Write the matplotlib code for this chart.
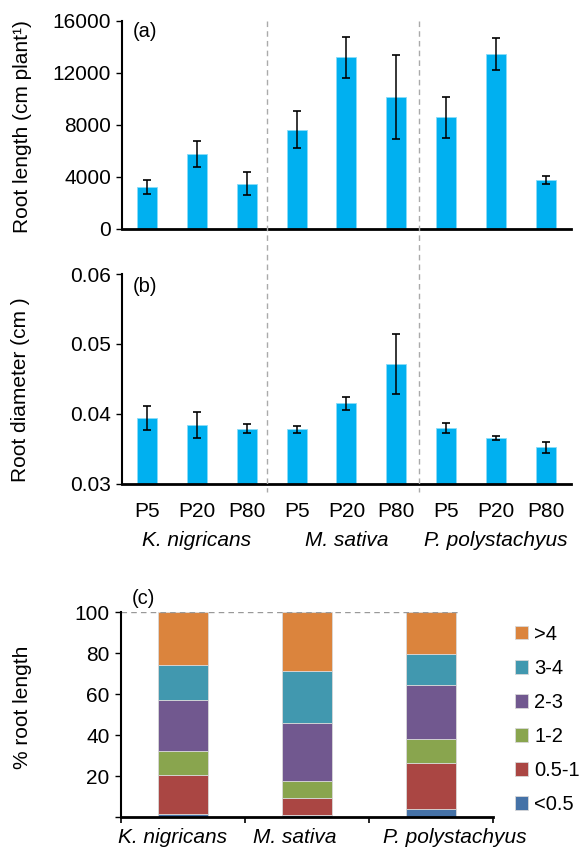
import numpy as np
import matplotlib
matplotlib.use('Agg')
import matplotlib.pyplot as plt
from matplotlib.lines import Line2D
from matplotlib.transforms import blended_transform_factory, ScaledTranslation

plt.rcParams['font.family'] = ['Liberation Sans', 'DejaVu Sans']

# panel (a) and (b) data
treatments = ['P5', 'P20', 'P80'] * 3
species = ['K. nigricans', 'M. sativa', 'P. polystachyus']
root_length = [3180, 5720, 3460, 7620, 13180, 10130, 8570, 13430, 3720]
root_length_err = [540, 1000, 880, 1430, 1560, 3200, 1570, 1250, 300]
root_diam = [0.0394, 0.0384, 0.0379, 0.0378, 0.0415, 0.0471, 0.0380, 0.0365, 0.0352]
root_diam_err = [0.0017, 0.0018, 0.0006, 0.0005, 0.0009, 0.0043, 0.0007, 0.0003, 0.0008]

# panel (c) data, % of root length per diameter class
classes = ['<0.5', '0.5-1', '1-2', '2-3', '3-4', '>4']
class_colors = ['#4572A7', '#AA4643', '#89A54E', '#71588F', '#4198AF', '#DB843D']
pct_k = [1.3, 19.2, 11.6, 25.2, 17.1, 25.6]
pct_m = [0.8, 8.6, 8.3, 28.2, 25.4, 28.7]
pct_p = [3.8, 22.7, 11.6, 26.5, 14.9, 20.5]

bar_color = '#00B0F0'
fs = 15

fig = plt.figure(figsize=(5.82, 8.5), dpi=100)
ax_a = fig.add_axes([0.2096, 0.731, 0.7714, 0.2446])
ax_b = fig.add_axes([0.2096, 0.4309, 0.7714, 0.2467])
ax_c = fig.add_axes([0.2074, 0.0388, 0.6392, 0.2408])

x = np.arange(len(treatments))
err_style = dict(ecolor='black', elinewidth=1.1, capsize=2.8, capthick=1.2)

def style_axis(ax):
    for s in ['top', 'right']:
        ax.spines[s].set_visible(False)
    ax.spines['left'].set_linewidth(1.5)
    ax.spines['bottom'].set_linewidth(2)
    ax.tick_params(axis='y', direction='out', length=4, width=1, labelsize=fs, pad=4)

#(a) root length
ax_a.bar(x, root_length, width=0.4, color=bar_color, edgecolor='#8adcf8', linewidth=0.6,
         yerr=root_length_err, error_kw=err_style)
ax_a.set_xlim(-0.5, 8.5)
ax_a.set_ylim(0, 16000)
ax_a.set_yticks([0, 4000, 8000, 12000, 16000])
ax_a.set_xticks([])
style_axis(ax_a)
ax_a.set_ylabel('Root length (cm plant¹)', fontsize=15)
ax_a.yaxis.set_label_coords(-0.200, 0.49)
ax_a.text(0.025, 0.995, '(a)', transform=ax_a.transAxes, fontsize=14.5, va='top', ha='left')

#(b) root diameter
ax_b.bar(x, root_diam, width=0.4, color=bar_color, edgecolor='#8adcf8', linewidth=0.6,
         yerr=root_diam_err, error_kw=err_style)
ax_b.set_xlim(-0.5, 8.5)
ax_b.set_ylim(0.03, 0.06)
ax_b.set_yticks([0.03, 0.04, 0.05, 0.06])
ax_b.set_yticklabels(['0.03', '0.04', '0.05', '0.06'])
style_axis(ax_b)
ax_b.set_xticks(x)
ax_b.set_xticklabels(treatments, fontsize=fs)
ax_b.tick_params(axis='x', length=0, pad=13)
ax_b.set_ylabel('Root diameter (cm )', fontsize=15)
ax_b.yaxis.set_label_coords(-0.205, 0.45)
ax_b.text(0.025, 0.985, '(b)', transform=ax_b.transAxes, fontsize=14.5, va='top', ha='left')
trans_b = blended_transform_factory(ax_b.transData, ax_b.transAxes)
for i, sp in enumerate(species):
    ax_b.text(3 * i + 1, -0.27, sp, transform=trans_b, fontsize=fs, style='italic',
              ha='center', va='center')

#dashed separators between species, drawn over both (a) and (b)
trans_f = blended_transform_factory(ax_a.transData, fig.transFigure)
for xs in [2.4, 5.45]:
    fig.add_artist(Line2D([xs, xs], [0.9756, 0.4212], transform=trans_f, color='#aaaaaa',
                          linestyle=(0, (4, 3)), linewidth=1, zorder=10))

#(c) stacked bars
xc = np.arange(len(species))
pct = np.array([pct_k, pct_m, pct_p])
bottom = np.zeros(len(species))
handles = []
for j, cl in enumerate(classes):
    h = ax_c.bar(xc, pct[:, j], width=0.4, bottom=bottom, color=class_colors[j],
                 edgecolor='#d8d8d8', linewidth=0.6, label=cl)
    handles.append(h)
    bottom += pct[:, j]
ax_c.set_xlim(-0.5, 2.5)
ax_c.set_ylim(0, 100)
ax_c.axhline(100, xmin=0, xmax=0.91, color='#999999', linestyle=(0, (4, 3)), linewidth=1)
style_axis(ax_c)
ax_c.set_yticks([0, 20, 40, 60, 80, 100])
ax_c.set_yticklabels(['', '20', '40', '60', '80', '100'])
ax_c.set_xticks(xc)
ax_c.set_xticklabels(species, fontsize=fs, style='italic')
ax_c.set_xticks([-0.5, 0.5, 1.5, 2.5], minor=True)
ax_c.tick_params(axis='x', which='major', length=0, pad=8)
ax_c.tick_params(axis='x', which='minor', direction='out', length=4.5, width=1.2)
#the species labels sit a little off-centre in the original
for lab, dx in zip(ax_c.get_xticklabels(), [-10, -12, 24]):
    lab.set_transform(lab.get_transform() + ScaledTranslation(dx / 100, 0, fig.dpi_scale_trans))
ax_c.set_ylabel('% root length', fontsize=15)
ax_c.yaxis.set_label_coords(-0.239, 0.535)
ax_c.text(0.03, 1.02, '(c)', transform=ax_c.transAxes, fontsize=14.5, va='bottom', ha='left')
ax_c.legend(handles[::-1], classes[::-1], loc='upper left', bbox_to_anchor=(0.885, 0.265),
            bbox_transform=fig.transFigure, frameon=False, fontsize=14.5,
            handlelength=0.65, handleheight=0.65, handletextpad=0.3, labelspacing=0.75,
            borderpad=0, borderaxespad=0)

fig.savefig('out.png', dpi=100)
